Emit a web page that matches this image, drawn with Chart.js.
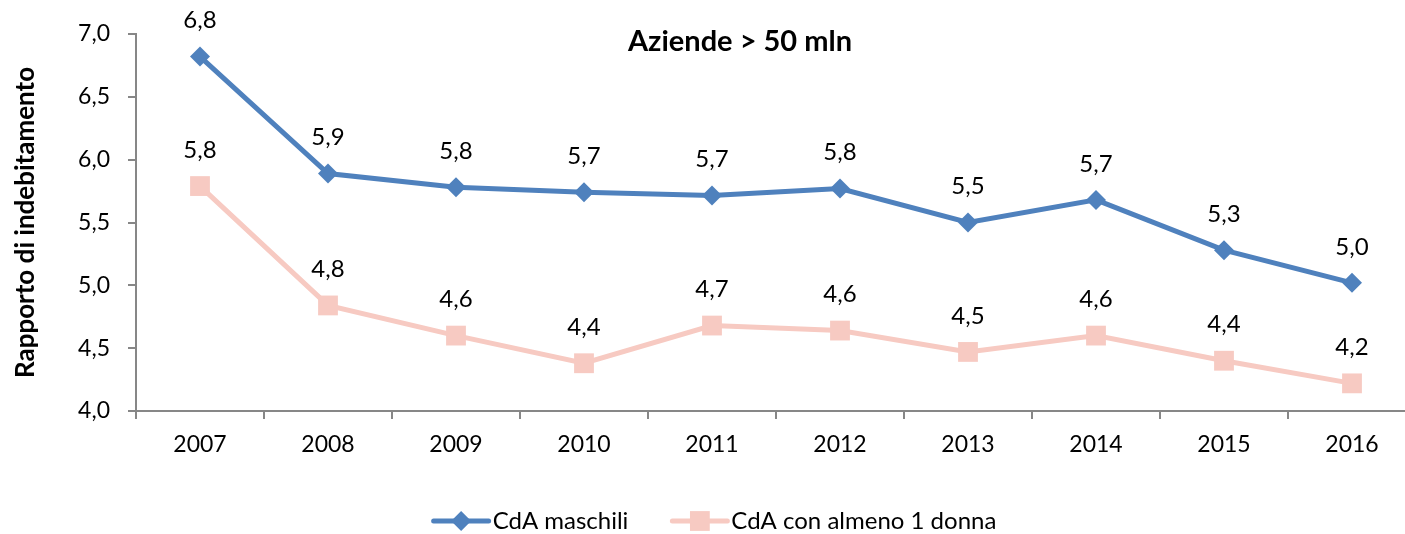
<!DOCTYPE html>
<html>
<head>
<meta charset="utf-8">
<script src="https://cdn.jsdelivr.net/npm/chart.js@4.4.1/dist/chart.umd.min.js"></script>
<style>
  html, body { margin: 0; padding: 0; background: #fff; overflow: hidden; }
  #wrap { width: 1405px; height: 534px; }
  canvas { display: block; }
</style>
</head>
<body>
<div id="wrap"><canvas id="chart" width="1405" height="534"></canvas></div>
<script>
// data
const years = ["2007", "2008", "2009", "2010", "2011", "2012", "2013", "2014", "2015", "2016"];
const cdaMaschili = [6.82, 5.89, 5.78, 5.74, 5.715, 5.77, 5.50, 5.68, 5.28, 5.02];
const cdaDonna = [5.79, 4.84, 4.60, 4.38, 4.68, 4.64, 4.47, 4.60, 4.40, 4.22];
const yTicks = [4.0, 4.5, 5.0, 5.5, 6.0, 6.5, 7.0];

const BLUE = "#4F81BD";
const PINK = "#F7CAC2";
const FONT = "Lato, 'Open Sans', sans-serif";
const OVERHANG = 11; // the original plot was cropped on the right

const fmt = (v) => v.toFixed(1).replace(".", ",");

// stretch the x axis past the canvas edge, like the cropped original
const overhang = {
  id: "overhang",
  afterLayout(chart) {
    const x = chart.scales.x;
    x.right += OVERHANG;
    x.width += OVERHANG;
    x.configure();
    x._labelItems = null;
    x._gridLineItems = null;
    chart.chartArea.right += OVERHANG;
    chart.chartArea.width += OVERHANG;
  }
};

// value labels above each point
const valueLabels = {
  id: "valueLabels",
  afterDatasetsDraw(chart) {
    const ctx = chart.ctx;
    ctx.save();
    ctx.font = "24px " + FONT;
    ctx.fillStyle = "#000";
    ctx.textAlign = "center";
    ctx.textBaseline = "middle";
    chart.data.datasets.forEach((ds, i) => {
      chart.getDatasetMeta(i).data.forEach((pt, j) => {
        ctx.fillText(fmt(ds.data[j]), pt.x, pt.y - 36);
      });
    });
    ctx.restore();
  }
};

// title inside the plot area
const innerTitle = {
  id: "innerTitle",
  afterDraw(chart) {
    const ctx = chart.ctx;
    ctx.save();
    ctx.font = "bold 29px " + FONT;
    ctx.fillStyle = "#000";
    ctx.textAlign = "center";
    ctx.textBaseline = "middle";
    ctx.fillText("Aziende > 50 mln", 740, 42);
    ctx.restore();
  }
};

// legend with line + marker, like the spreadsheet one
const lineLegend = {
  id: "lineLegend",
  afterDraw(chart) {
    const ctx = chart.ctx;
    const y = 521, lineLen = 55, textGap = 4, itemGap = 44, centre = 715;
    ctx.save();
    ctx.font = "24px " + FONT;
    ctx.textBaseline = "middle";
    const items = chart.data.datasets.map((ds) => ({
      ds, w: lineLen + textGap + ctx.measureText(ds.label).width
    }));
    const total = items.reduce((s, it) => s + it.w, 0) + itemGap * (items.length - 1);
    let x = centre - total / 2;
    items.forEach((it) => {
      const r = it.ds.pointRadius;
      ctx.strokeStyle = it.ds.borderColor;
      ctx.lineWidth = 5;
      ctx.lineCap = "round";
      ctx.beginPath();
      ctx.moveTo(x, y);
      ctx.lineTo(x + lineLen, y);
      ctx.stroke();
      const cx = x + lineLen / 2;
      ctx.fillStyle = it.ds.pointBackgroundColor;
      ctx.beginPath();
      if (it.ds.pointStyle === "rectRot") {
        ctx.moveTo(cx, y - r);
        ctx.lineTo(cx + r, y);
        ctx.lineTo(cx, y + r);
        ctx.lineTo(cx - r, y);
      } else {
        const h = r * Math.SQRT1_2;
        ctx.rect(cx - h, y - h, 2 * h, 2 * h);
      }
      ctx.closePath();
      ctx.fill();
      ctx.fillStyle = "#000";
      ctx.fillText(it.ds.label, x + lineLen + textGap, y);
      x += it.w + itemGap;
    });
    ctx.restore();
  }
};

new Chart(document.getElementById("chart"), {
  type: "line",
  data: {
    labels: years,
    datasets: [
      {
        label: "CdA maschili",
        data: cdaMaschili,
        borderColor: BLUE,
        backgroundColor: BLUE,
        pointBackgroundColor: BLUE,
        pointBorderColor: BLUE,
        pointStyle: "rectRot",
        pointRadius: 10,
        pointBorderWidth: 0,
        borderWidth: 5,
        tension: 0
      },
      {
        label: "CdA con almeno 1 donna",
        data: cdaDonna,
        borderColor: PINK,
        backgroundColor: PINK,
        pointBackgroundColor: PINK,
        pointBorderColor: PINK,
        pointStyle: "rect",
        pointRadius: 14,
        pointBorderWidth: 0,
        borderWidth: 5,
        tension: 0
      }
    ]
  },
  options: {
    responsive: false,
    animation: false,
    layout: { autoPadding: false, padding: { top: 34, right: 0, bottom: 0, left: 0 } },
    plugins: {
      legend: { display: false },
      title: { display: false },
      tooltip: { enabled: false }
    },
    scales: {
      x: {
        offset: true,
        grid: { offset: true, drawOnChartArea: false, drawTicks: true, tickLength: 8, color: "#878787", lineWidth: 2 },
        border: { color: "#878787", width: 2 },
        ticks: { color: "#000", font: { family: FONT, size: 23 }, padding: 12, maxRotation: 0 },
        afterFit(scale) {
          scale.height = 123;
          scale.paddingLeft = 0;
          scale.paddingRight = 0;
        }
      },
      y: {
        min: 4,
        max: 7,
        afterBuildTicks(scale) { scale.ticks = yTicks.map((v) => ({ value: v })); },
        grid: { drawOnChartArea: false, drawTicks: true, tickLength: 8, color: "#878787", lineWidth: 2 },
        border: { color: "#878787", width: 2 },
        ticks: { color: "#000", font: { family: FONT, size: 23 }, padding: 18, callback: (v) => fmt(v) },
        title: {
          display: true,
          text: "Rapporto di indebitamento",
          color: "#000",
          font: { family: FONT, size: 26, weight: "bold" },
          padding: { top: 10, bottom: 0 }
        },
        afterFit(scale) { scale.width = 136; }
      }
    }
  },
  plugins: [overhang, valueLabels, innerTitle, lineLegend]
});
</script>
</body>
</html>
